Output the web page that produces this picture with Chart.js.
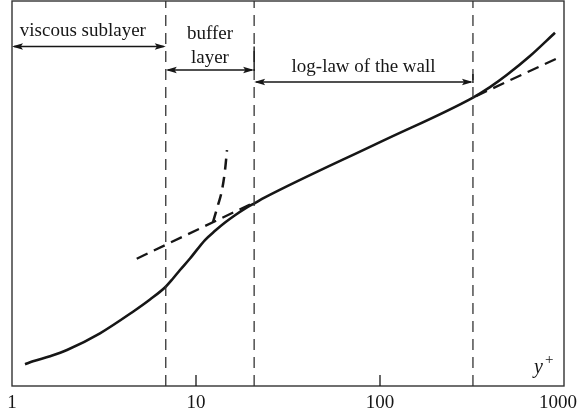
<!DOCTYPE html>
<html>
<head>
<meta charset="utf-8">
<script src="https://cdn.jsdelivr.net/npm/chart.js@4/dist/chart.umd.min.js"></script>
<style>
  html, body { margin: 0; padding: 0; background: #fff; }
  canvas { display: block; }
</style>
</head>
<body>
<canvas id="c" width="581" height="416"></canvas>
<script>
// Velocity profile near a wall: u+ against y+ (log scale)
const profileYPlus = [1.177, 1.30, 1.609, 1.99, 3.008, 4.546, 5.623, 6.844, 7.499, 8.185, 9.278,
                      11.19, 12.69, 14.38, 16.29, 18.46, 20.9, 23.7, 100, 320.2, 396.1, 488.3, 653.4, 893.5];
const profileUPlus = [1.447, 1.647, 1.987, 2.40, 3.513, 4.953, 5.767, 6.62, 7.167, 7.733, 8.5,
                      9.733, 10.347, 10.9, 11.387, 11.827, 12.2, 12.573, 16.26, 19.233, 19.93, 20.733, 22.0, 23.553];

// Extensions of the log law below and above the range where it holds
const logLawLowYPlus = [4.763, 19.66];
const logLawLowUPlus = [8.484, 12.107];
const logLawHighYPlus = [332.4, 912.6];
const logLawHighUPlus = [19.33, 21.83];

// Extension of the linear (u+ = y+) sublayer law
const linearYPlus = [12.37, 13.17, 13.85, 14.38, 14.74];
const linearUPlus = [10.93, 12.07, 13.07, 14.4, 15.73];

// Region boundaries and their names
const regionStarts = [1, 6.85, 20.7];
const regionEnds = [6.85, 20.7, 320];
const regionBounds = [6.85, 20.7, 320];
const regionNames = [['viscous sublayer'], ['buffer', 'layer'], ['log-law of the wall']];

// x axis ticks
const tickValues = [1, 10, 100, 1000];
const tickLabels = ['1', '10', '100', '1000'];

const U_MAX = 25.67;
const INK = '#161616';
const SERIF = '"Liberation Serif", "DejaVu Serif", serif';

const toPoints = (xs, ys) => xs.map((x, i) => ({ x: x, y: ys[i] }));

const datasets = [];
regionBounds.forEach(b => {
  datasets.push({
    data: [{ x: b, y: 0 }, { x: b, y: U_MAX }],
    borderColor: '#333',
    borderWidth: 1.3,
    borderDash: [11, 7],
    pointRadius: 0,
    showLine: true
  });
});
datasets.push({
  data: toPoints(logLawLowYPlus, logLawLowUPlus),
  borderColor: INK, borderWidth: 2.3, borderDash: [12, 7], pointRadius: 0, showLine: true
});
datasets.push({
  data: toPoints(logLawHighYPlus, logLawHighUPlus),
  borderColor: INK, borderWidth: 2.3, borderDash: [12, 7], pointRadius: 0, showLine: true
});
datasets.push({
  data: toPoints(linearYPlus, linearUPlus),
  borderColor: INK, borderWidth: 2.5, borderDash: [11, 7], pointRadius: 0, showLine: true,
  cubicInterpolationMode: 'monotone'
});
datasets.push({
  data: toPoints(profileYPlus, profileUPlus),
  borderColor: INK, borderWidth: 2.6, pointRadius: 0, showLine: true,
  cubicInterpolationMode: 'monotone'
});

function arrowHead(ctx, x, y, dir) {
  const len = 11, half = 3.2;
  ctx.beginPath();
  ctx.moveTo(x, y);
  ctx.lineTo(x - dir * len, y - half);
  ctx.lineTo(x - dir * len * 0.8, y);
  ctx.lineTo(x - dir * len, y + half);
  ctx.closePath();
  ctx.fill();
}

const decor = {
  id: 'decor',
  afterDatasetsDraw(chart) {
    const ctx = chart.ctx;
    const a = chart.chartArea;
    const xs = chart.scales.x;
    ctx.save();

    // frame
    ctx.strokeStyle = '#333';
    ctx.lineWidth = 1.4;
    ctx.strokeRect(a.left, a.top, a.right - a.left, a.bottom - a.top);

    // inner tick marks and labels
    ctx.fillStyle = INK;
    ctx.strokeStyle = INK;
    ctx.font = '19px ' + SERIF;
    ctx.textAlign = 'center';
    ctx.textBaseline = 'alphabetic';
    tickValues.forEach((v, i) => {
      const px = xs.getPixelForValue(v);
      if (px > a.left + 1 && px < a.right - 1) {
        ctx.beginPath();
        ctx.moveTo(px, a.bottom);
        ctx.lineTo(px, a.bottom - 11);
        ctx.lineWidth = 1.3;
        ctx.stroke();
      }
      const w = ctx.measureText(tickLabels[i]).width;
      let cx = px;
      if (cx + w / 2 > chart.width - 4) cx = chart.width - 4 - w / 2;
      ctx.fillText(tickLabels[i], cx, a.bottom + 22);
    });

    // axis name
    ctx.font = 'italic 20px ' + SERIF;
    ctx.textAlign = 'left';
    ctx.fillText('y', a.right - 30, a.bottom - 13);
    ctx.font = '15px ' + SERIF;
    ctx.fillText('+', a.right - 19, a.bottom - 22);

    // region arrows and names
    const arrowY = [a.top + 45.5, a.top + 69, a.top + 81];
    const labelY = [[a.top + 35], [a.top + 38, a.top + 62], [a.top + 71]];
    const labelShift = [-6, 0, 0];
    ctx.lineWidth = 1.4;
    regionNames.forEach((names, i) => {
      const x0 = xs.getPixelForValue(regionStarts[i]);
      const x1 = xs.getPixelForValue(regionEnds[i]);
      const y = arrowY[i];
      ctx.beginPath();
      ctx.moveTo(x0 + 2, y);
      ctx.lineTo(x1 - 2, y);
      ctx.stroke();
      arrowHead(ctx, x0, y, -1);
      arrowHead(ctx, x1, y, 1);
      ctx.font = '19px ' + SERIF;
      ctx.textAlign = 'center';
      names.forEach((t, k) => ctx.fillText(t, (x0 + x1) / 2 + labelShift[i], labelY[i][k]));
    });

    // short joins where consecutive arrows meet a boundary
    [[1, 0, 1], [2, 1, 2]].forEach(([b, i0, i1]) => {
      const px = xs.getPixelForValue(regionBounds[b]);
      ctx.beginPath();
      ctx.moveTo(px, arrowY[i0] - (b === 2 ? -4 : 0));
      ctx.lineTo(px, arrowY[i1] + 1);
      ctx.stroke();
    });
    ctx.restore();
  }
};

new Chart(document.getElementById('c'), {
  type: 'scatter',
  data: { datasets: datasets },
  options: {
    responsive: false,
    animation: false,
    layout: { padding: { left: 12, right: 17, top: 1, bottom: 30 } },
    plugins: { legend: { display: false }, tooltip: { enabled: false } },
    scales: {
      x: { type: 'logarithmic', min: 1, max: 1000, display: false },
      y: { type: 'linear', min: 0, max: U_MAX, display: false }
    }
  },
  plugins: [decor]
});
</script>
</body>
</html>
